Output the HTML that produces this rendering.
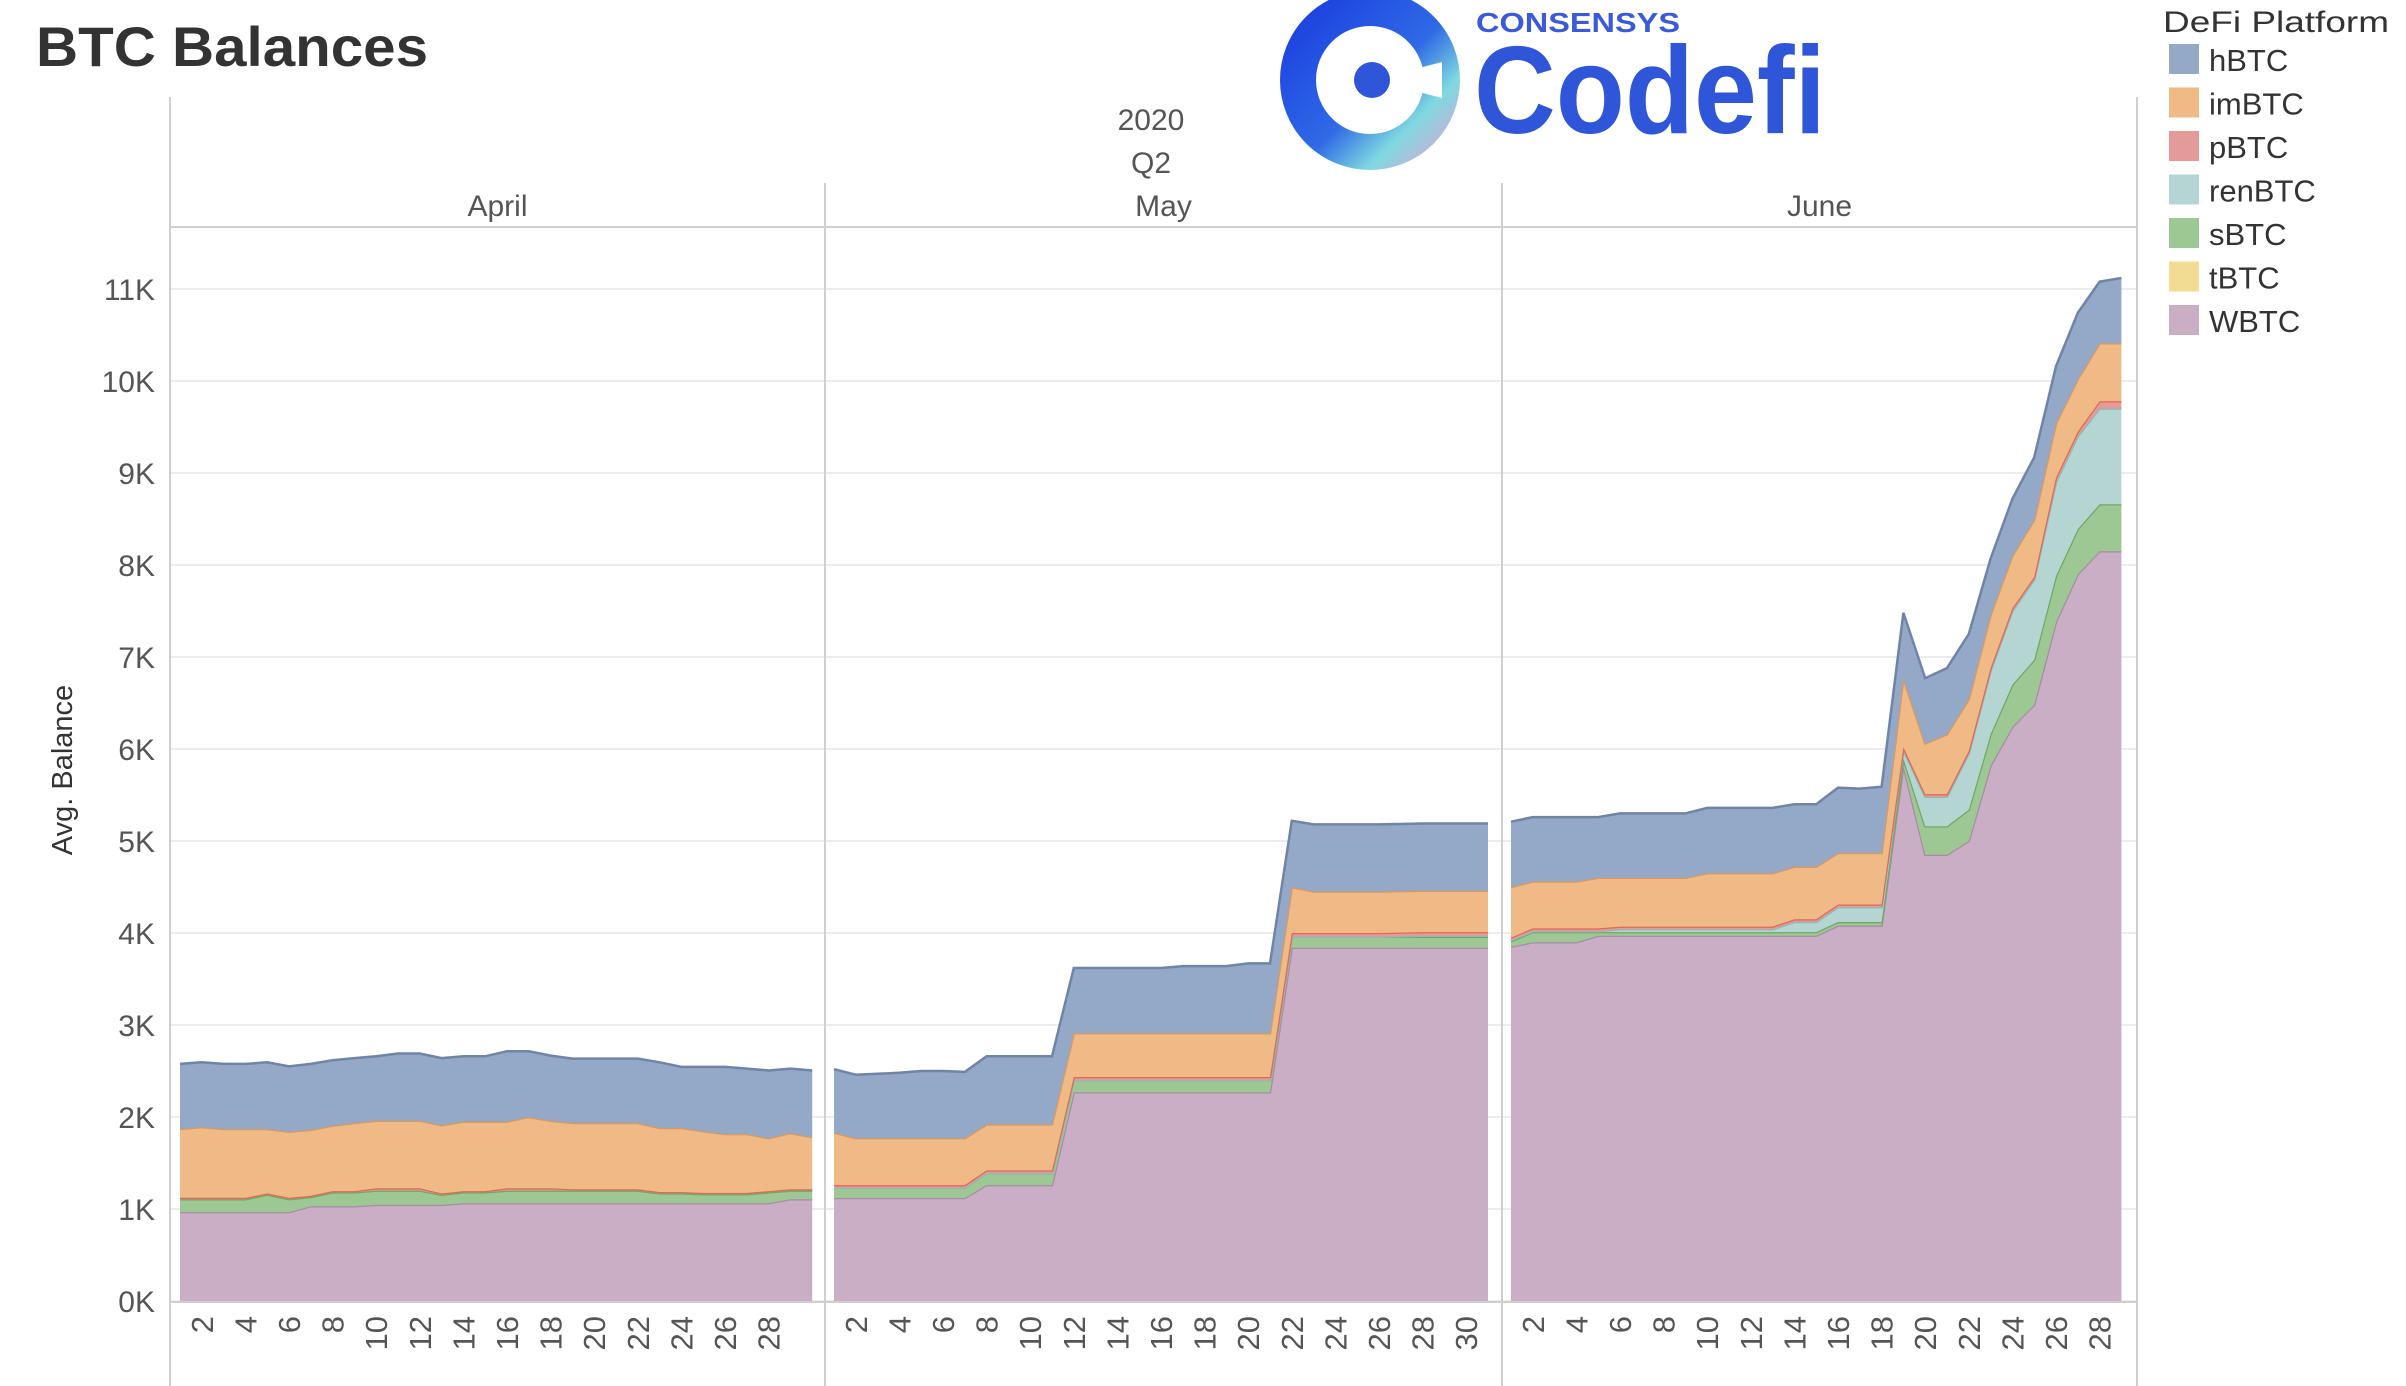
<!DOCTYPE html>
<html><head><meta charset="utf-8"><title>BTC Balances</title>
<style>
html,body{margin:0;padding:0;background:#fff;}
svg{display:block;font-family:"Liberation Sans",sans-serif;}
</style></head>
<body>
<svg id="chart" width="2406" height="1386" viewBox="0 0 2406 1386" xmlns="http://www.w3.org/2000/svg">
<defs>
<linearGradient id="ringGrad" x1="0" y1="0" x2="1" y2="1">
<stop offset="0" stop-color="#1c3fe0"/><stop offset="0.55" stop-color="#2f6ae6"/><stop offset="0.8" stop-color="#7fd9e0"/><stop offset="1" stop-color="#c9b0d8"/>
</linearGradient>
</defs>
<text x="36" y="66" font-size="56" font-weight="bold" fill="#333" textLength="392" lengthAdjust="spacingAndGlyphs">BTC Balances</text>
<g>
<circle cx="1370" cy="80" r="72" fill="none" stroke="url(#ringGrad)" stroke-width="36"/>
<path d="M1442 62 L1372 80 L1442 98 Z" fill="#fff"/>
<circle cx="1372" cy="80" r="18" fill="#2f55d8"/>
<text x="1476" y="32" font-size="28" font-weight="bold" fill="#3a5ad9" textLength="204" lengthAdjust="spacingAndGlyphs">CONSENSYS</text>
<text x="1474" y="133" font-size="124" font-weight="bold" fill="#2f55d8" textLength="352" lengthAdjust="spacingAndGlyphs">Codefi</text>
</g>
<g id="frame"></g>
<g id="areas"></g>
<g id="axes"></g>
<g id="legend"></g>
</svg>
<script>
// ---- data ----
const platforms = ["hBTC","imBTC","pBTC","renBTC","sBTC","tBTC","WBTC"];
const colors = {hBTC:"#94a9c7",imBTC:"#efba85",pBTC:"#e49a96",renBTC:"#b5d5d2",sBTC:"#9dc893",tBTC:"#f2dc94",WBTC:"#c9aec5"};
const strokes = {hBTC:"#6f84a6",imBTC:"#d9995f",pBTC:"#e0675a",renBTC:"#8fb9b6",sBTC:"#6fa865",tBTC:"#d8bf60",WBTC:"#a98ba5"};
const months = ["April","May","June"];
const yTicks = [0,1000,2000,3000,4000,5000,6000,7000,8000,9000,10000,11000];
const yTickLabels = ["0K","1K","2K","3K","4K","5K","6K","7K","8K","9K","10K","11K"];

// April (days 1-30)
const aprWBTC = [966,966,966,966,966,966,1030,1030,1030,1045,1045,1045,1045,1063,1063,1063,1063,1063,1063,1063,1063,1063,1063,1063,1063,1063,1063,1063,1107,1107];
const aprTBTC = [0,0,0,0,0,0,0,0,0,0,0,0,0,0,0,0,0,0,0,0,0,0,0,0,0,0,0,0,0,0];
const aprSBTC = [141,141,141,141,189,141,100,150,150,155,155,155,110,117,117,137,137,137,137,137,137,137,107,107,97,97,97,117,93,93];
const aprRenBTC = [0,0,0,0,0,0,0,0,0,0,0,0,0,0,0,0,0,0,0,0,0,0,0,0,0,0,0,0,0,0];
const aprPBTC = [15,15,15,15,15,15,15,15,15,25,25,25,15,15,15,25,25,25,15,15,15,15,15,15,15,15,15,15,15,15];
const aprImBTC = [748,768,748,748,700,718,715,710,740,735,735,735,740,755,755,725,775,735,720,720,720,720,695,695,670,640,640,575,611,565];
const aprHBTC = [707,705,707,707,725,710,717,712,705,700,730,730,730,710,710,765,715,707,700,700,700,700,715,665,700,730,711,735,700,725];

// May (days 1-31)
const mayWBTC = [1120,1120,1120,1120,1120,1120,1120,1260,1260,1260,1260,2270,2270,2270,2270,2270,2270,2270,2270,2270,2270,3840,3840,3840,3840,3840,3840,3840,3840,3840,3840];
const mayTBTC = [0,0,0,0,0,0,0,0,0,0,0,0,0,0,0,0,0,0,0,0,0,0,0,0,0,0,0,0,0,0,0];
const maySBTC = [110,110,110,110,110,110,110,130,130,130,130,130,130,130,130,130,130,130,130,130,130,120,120,120,120,120,120,120,120,120,120];
const mayRenBTC = [0,0,0,0,0,0,0,0,0,0,0,0,0,0,0,0,0,0,0,0,0,0,0,0,0,0,5,10,10,10,10];
const mayPBTC = [30,30,30,30,30,30,30,30,30,30,30,35,35,35,35,35,35,35,35,35,35,40,40,40,40,40,40,40,40,40,40];
const mayImBTC = [570,510,510,510,510,510,510,500,500,500,500,475,475,475,475,475,475,475,475,475,475,500,450,450,450,450,450,450,450,450,450];
const mayHBTC = [690,690,700,710,730,730,720,740,740,740,740,710,710,710,710,710,730,730,730,760,760,720,730,730,730,730,730,730,730,730,730];

// June (days 1-29)
const junWBTC = [3850,3900,3900,3900,3970,3970,3970,3970,3970,3970,3970,3970,3970,3970,3970,4080,4080,4080,5820,4850,4850,5000,5820,6240,6480,7380,7900,8150,8150];
const junTBTC = [0,0,0,0,0,0,0,0,0,0,0,0,0,0,0,0,0,0,0,0,0,0,0,0,0,0,0,0,0];
const junSBTC = [60,110,110,110,40,40,40,40,40,40,40,40,40,40,40,40,40,40,80,310,310,340,340,460,490,500,490,510,510];
const junRenBTC = [10,10,10,10,10,30,30,30,30,30,30,30,30,110,110,160,160,160,90,320,320,610,690,800,870,1020,1010,1040,1040];
const junPBTC = [30,30,30,30,30,30,30,30,30,30,30,30,30,30,30,30,30,30,30,30,30,30,30,30,30,50,50,80,80];
const junImBTC = [550,510,510,510,550,530,530,530,530,580,580,580,580,570,570,560,560,560,750,550,650,560,580,570,620,590,570,630,630];
const junHBTC = [710,700,700,700,660,700,700,700,700,710,710,710,710,680,680,710,700,720,710,710,720,710,610,620,680,620,720,670,710];

const panelSeries = [
  {WBTC:aprWBTC,tBTC:aprTBTC,sBTC:aprSBTC,renBTC:aprRenBTC,pBTC:aprPBTC,imBTC:aprImBTC,hBTC:aprHBTC},
  {WBTC:mayWBTC,tBTC:mayTBTC,sBTC:maySBTC,renBTC:mayRenBTC,pBTC:mayPBTC,imBTC:mayImBTC,hBTC:mayHBTC},
  {WBTC:junWBTC,tBTC:junTBTC,sBTC:junSBTC,renBTC:junRenBTC,pBTC:junPBTC,imBTC:junImBTC,hBTC:junHBTC}
];
const stackOrder = ["WBTC","tBTC","sBTC","renBTC","pBTC","imBTC","hBTC"];

// ---- layout ----
const NS = "http://www.w3.org/2000/svg";
const plotLeft = 170, plotRight = 2137, plotTop = 227, plotBottom = 1301;
const panelStart = [180, 834, 1511];
const dayStep = 21.8;
const panelBounds = [[170, 825], [825, 1502], [1502, 2137]];
function y(v){ return plotBottom - v * (92 / 1000); }
function xDay(p, d){ return panelStart[p] + (d - 1) * dayStep; }

function mk(tag, attrs, parent){
  const e = document.createElementNS(NS, tag);
  for (const k in attrs) e.setAttribute(k, attrs[k]);
  parent.appendChild(e);
  return e;
}
const frame = document.getElementById("frame");
const areas = document.getElementById("areas");
const axes = document.getElementById("axes");
const legend = document.getElementById("legend");

// gridlines
yTicks.forEach((v, i) => {
  const g = mk("line", {x1: plotLeft, x2: plotRight, y1: y(v), y2: y(v), stroke: "#ececec", "stroke-width": 2}, frame);
  
  
  const t = mk("text", {x: 155, y: y(v) + 11, "text-anchor": "end", "font-size": 30, fill: "#555"}, axes);
  t.textContent = yTickLabels[i];
  
  
});

// frame lines
const fl = [
  [plotLeft, 97, plotLeft, 1386],
  [plotRight, 97, plotRight, 1386],
  [825, 183, 825, 1386],
  [1502, 183, 1502, 1386],
  [plotLeft, plotTop, plotRight, plotTop],
  [plotLeft, plotBottom + 1, plotRight, plotBottom + 1]
];
fl.forEach((l, i) => {
  const e = mk("line", {x1: l[0], y1: l[1], x2: l[2], y2: l[3], stroke: "#cfcfcf", "stroke-width": 2}, frame);
  
  
});

// header text
const hdr = [["2020", 1151, 130], ["Q2", 1151, 173]];
hdr.forEach(h => {
  const t = mk("text", {x: h[1], y: h[2], "text-anchor": "middle", "font-size": 30, fill: "#555"}, axes);
  t.textContent = h[0];
  
  
});
months.forEach((m, p) => {
  const cx = (panelBounds[p][0] + panelBounds[p][1]) / 2;
  const t = mk("text", {x: cx, y: 216, "text-anchor": "middle", "font-size": 30, fill: "#555"}, axes);
  t.textContent = m;
  
  
});

// y-axis title
const yt = mk("text", {x: 0, y: 0, transform: "translate(72,770) rotate(-90)", "text-anchor": "middle", "font-size": 29, fill: "#333"}, axes);
yt.textContent = "Avg. Balance";



// areas
panelSeries.forEach((ser, p) => {
  const n = ser.WBTC.length;
  const base = new Array(n).fill(0);
  stackOrder.forEach(name => {
    const vals = ser[name];
    const top = base.map((b, i) => b + vals[i]);
    let d = "";
    for (let i = 0; i < n; i++) d += (i ? "L" : "M") + xDay(p, i + 1).toFixed(1) + " " + y(top[i]).toFixed(1);
    for (let i = n - 1; i >= 0; i--) d += "L" + xDay(p, i + 1).toFixed(1) + " " + y(base[i]).toFixed(1);
    d += "Z";
    const a = mk("path", {d: d, fill: colors[name], stroke: "none"}, areas);
    
    
    let ld = "";
    for (let i = 0; i < n; i++) ld += (i ? "L" : "M") + xDay(p, i + 1).toFixed(1) + " " + y(top[i]).toFixed(1);
    if (vals.some(v => v > 0)) {
      const ln = mk("path", {d: ld, fill: "none", stroke: strokes[name], "stroke-width": 2.5}, areas);
      
      
    }
    for (let i = 0; i < n; i++) base[i] = top[i];
  });
  // x tick labels
  for (let d = 2; d < n; d += 2) {
    const t = mk("text", {x: 0, y: 0, transform: "translate(" + (xDay(p, d) + 11).toFixed(1) + ",1316) rotate(-90)", "text-anchor": "end", "font-size": 31, fill: "#555"}, axes);
    t.textContent = String(d);
    
    
  }
});

// legend
const lt = mk("text", {x: 2163, y: 32, "font-size": 30, fill: "#333", textLength: 226, lengthAdjust: "spacingAndGlyphs"}, legend);
lt.textContent = "DeFi Platform";


platforms.forEach((name, i) => {
  const g = mk("g", {}, legend);
  
  
  const yy = 44 + i * 43.5;
  mk("rect", {x: 2169, y: yy, width: 30, height: 30, fill: colors[name]}, g);
  const t = mk("text", {x: 2209, y: yy + 27, "font-size": 31, fill: "#333"}, g);
  t.textContent = name;
});
</script>
</body></html>
